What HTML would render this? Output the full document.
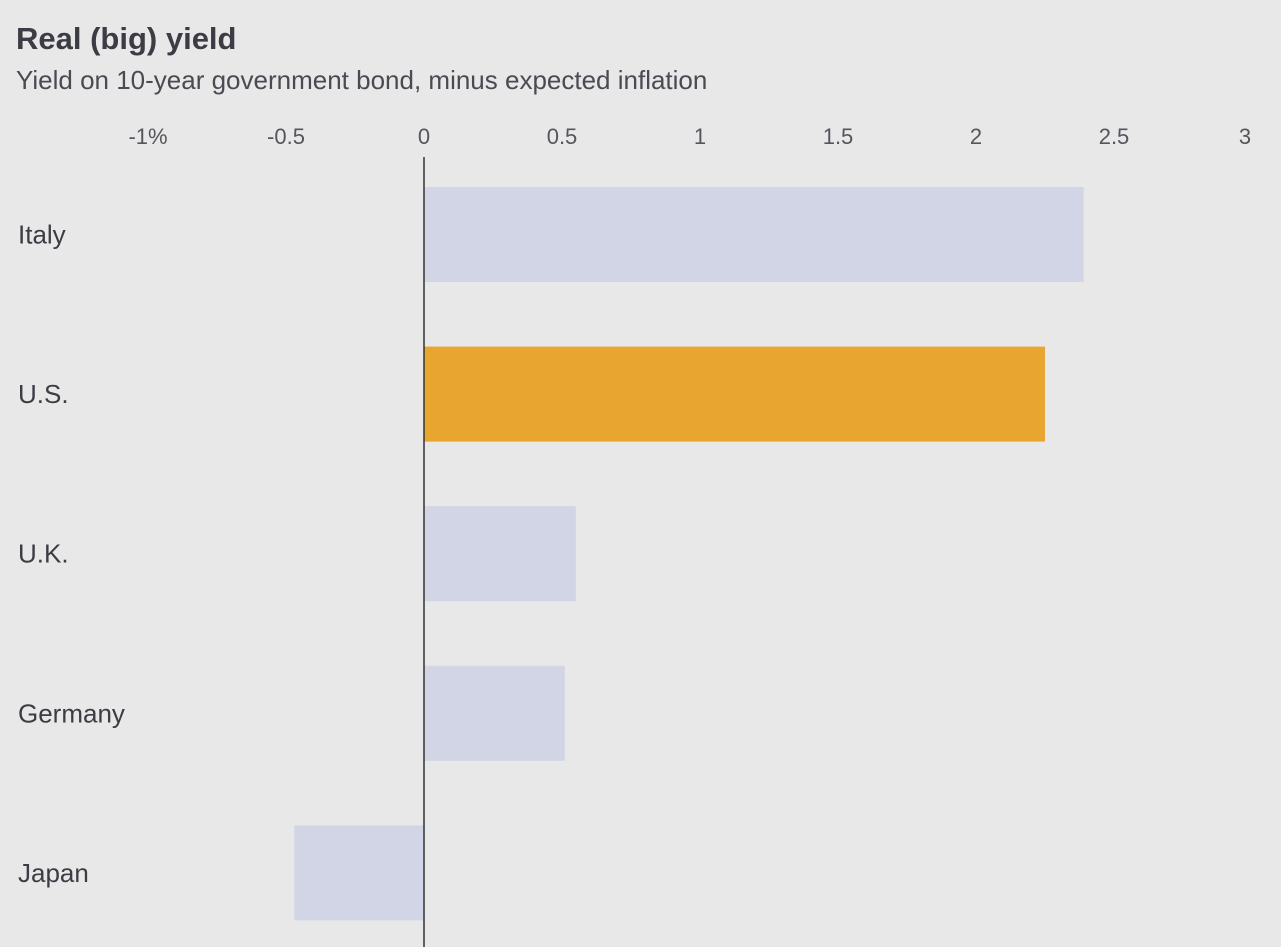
<!DOCTYPE html>
<html><head><meta charset="utf-8"><style>
html,body{margin:0;padding:0;background:#e8e8e8;}
svg{display:block;font-family:"Liberation Sans",sans-serif;}
</style></head><body>
<svg id="chart" width="1281" height="947">
<rect width="1281" height="947" fill="#e8e8e8"/>
<text x="16" y="49" font-size="31" font-weight="bold" fill="#3c3c44">Real (big) yield</text>
<text x="16" y="89" font-size="26" fill="#4a4a52">Yield on 10-year government bond, minus expected inflation</text>
<g id="ticks"></g>
<g id="bars"></g>
<g id="labels"></g>
<line id="zero" stroke="#333" stroke-width="1.5"/>
</svg>
<script>
const categories = ["Italy","U.S.","U.K.","Germany","Japan"];
const values = [2.39, 2.25, 0.55, 0.51, -0.47];
const highlight = ["U.S."];
const tickValues = [-1,-0.5,0,0.5,1,1.5,2,2.5,3];
const tickLabels = ["-1%","-0.5","0","0.5","1","1.5","2","2.5","3"];
const NS="http://www.w3.org/2000/svg";
const x = v => 424 + v*276;
const bandTop = i => 187 + i*159.6;
const barH = 95;
const tg=document.getElementById('ticks'), bg=document.getElementById('bars'), lg=document.getElementById('labels');
tickValues.forEach((v,i)=>{
  const t=document.createElementNS(NS,'text');
  
  
  let px=x(v); if(px>1240) px=1245;
  t.setAttribute('x',px); t.setAttribute('y',144);
  t.setAttribute('text-anchor','middle'); t.setAttribute('font-size','22');
  t.setAttribute('fill','#55555c'); t.textContent=tickLabels[i];
  tg.appendChild(t);
});
categories.forEach((c,i)=>{
  const v=values[i];
  const r=document.createElementNS(NS,'rect');
  
  
  r.setAttribute('x',Math.min(x(0),x(v))); r.setAttribute('width',Math.abs(x(v)-x(0)));
  r.setAttribute('y',bandTop(i)); r.setAttribute('height',barH);
  r.setAttribute('fill',highlight.includes(c)?'#e8a630':'#d1d5e6');
  bg.appendChild(r);
  const t=document.createElementNS(NS,'text');
  
  
  t.setAttribute('x',18); t.setAttribute('y',bandTop(i)+barH/2+9);
  t.setAttribute('font-size','26'); t.setAttribute('fill','#3c3c44');
  t.textContent=c; lg.appendChild(t);
});
const z=document.getElementById('zero');
z.setAttribute('x1',x(0)); z.setAttribute('x2',x(0)); z.setAttribute('y1',157); z.setAttribute('y2',947);
</script>
</body></html>
